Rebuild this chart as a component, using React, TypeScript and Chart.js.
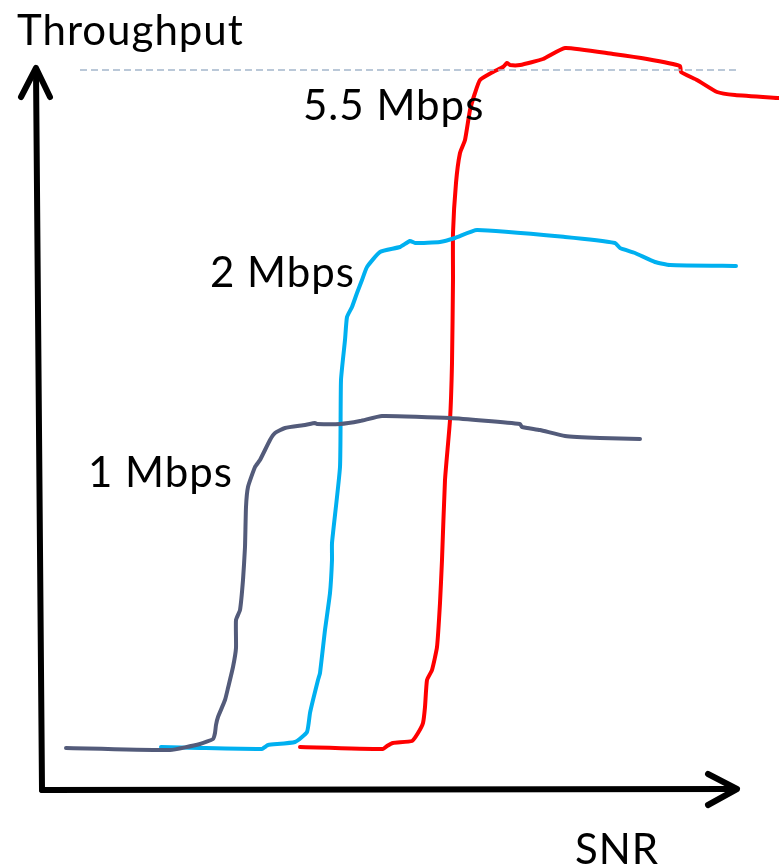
import React, { useEffect, useRef } from "react";
import { Chart, registerables } from "chart.js";

Chart.register(...registerables);

// SNR (x) / throughput (y), arbitrary units, origin at the axes' corner
const mbps1: [number, number][] = [
  [24, 42], [128, 40], [158, 46], [171, 51], [173, 57], [174, 65], [176, 73], [183, 90], [186, 102],
  [191, 123], [194, 142], [194, 170], [198, 180], [201, 210], [203, 243], [204, 283], [206, 303],
  [213, 323], [218, 330], [228, 350], [233, 357], [243, 362], [263, 365], [273, 367], [275, 366],
  [298, 366], [318, 369], [340, 374], [408, 372], [478, 366], [480, 363], [498, 360], [523, 354],
  [558, 352], [598, 351],
];
const mbps2: [number, number][] = [
  [119, 43], [158, 42], [220, 41], [223, 43], [226, 45], [253, 48], [265, 58], [268, 77], [271, 90],
  [276, 110], [278, 117], [283, 160], [288, 197], [290, 230], [290, 247], [298, 323], [299, 410],
  [303, 450], [305, 473], [310, 483], [315, 497], [320, 510], [325, 523], [338, 538], [358, 543],
  [368, 549], [373, 547], [398, 548], [413, 552], [435, 560], [523, 553], [573, 547], [578, 542],
  [593, 537], [613, 528], [628, 525], [694, 524],
];
const mbps55: [number, number][] = [
  [258, 43], [341, 41], [345, 44], [351, 47], [370, 49], [376, 57], [381, 67], [383, 83], [385, 110],
  [390, 120], [395, 143], [398, 187], [400, 230], [403, 310], [408, 370], [410, 427], [411, 510],
  [411, 557], [414, 607], [418, 637], [423, 650], [428, 680], [433, 697], [438, 710], [451, 718],
  [461, 723], [465, 727], [468, 725], [478, 725], [501, 731], [523, 742], [571, 736], [605, 731],
  [638, 724], [639, 718], [655, 710], [675, 698], [693, 695], [737, 692],
];
const maxLine: [number, number][] = [[38, 720], [698, 720]];
const yAxisLine: [number, number][] = [[0, 0], [-6, 720]];
const yArrow: [number, number][] = [[-21, 693], [-6, 722], [8, 693]];
const xAxisLine: [number, number][] = [[0, 0], [692, 1]];
const xArrow: [number, number][] = [[666, 16], [695, 1], [666, -15]];

const labelTexts = ["Throughput", "5.5 Mbps", "2 Mbps", "1 Mbps", "SNR"];
const labelAnchors: [number, number][] = [[-25, 745], [261, 670], [168, 503], [46, 303], [533, -74]];

const toPts = (a: [number, number][]) => a.map(([x, y]) => ({ x, y }));

export default function App() {
  const ref = useRef<HTMLCanvasElement | null>(null);
  useEffect(() => {
    document.body.style.margin = "0";
    if (!ref.current) return;
    const labelPlugin = {
      id: "labels",
      afterDatasetsDraw(chart: any) {
        const { ctx, scales } = chart;
        ctx.save();
        ctx.fillStyle = "#000";
        ctx.font = "42px Lato";
        try { (ctx as any).letterSpacing = "1px"; } catch (e) {}
        ctx.textBaseline = "alphabetic";
        labelTexts.forEach((t, i) => {
          const [x, y] = labelAnchors[i];
          ctx.fillText(t, scales.x.getPixelForValue(x), scales.y.getPixelForValue(y));
        });
        ctx.restore();
      },
    };
    const line = (data: [number, number][], color: string, width: number, extra: any = {}) => ({
      data: toPts(data),
      showLine: true,
      borderColor: color,
      backgroundColor: color,
      borderWidth: width,
      pointRadius: 0,
      borderCapStyle: "round",
      borderJoinStyle: "round",
      tension: 0.15,
      clip: false,
      ...extra,
    });
    const chart = new Chart(ref.current, {
      type: "scatter",
      data: {
        datasets: [
          line(maxLine, "#A4B7CB", 1.5, { borderDash: [7, 4], borderCapStyle: "butt", tension: 0 }),
          line(mbps1, "#535B7A", 4),
          line(mbps2, "#00B0F0", 4),
          line(mbps55, "#FF0000", 4),
          line(yAxisLine, "#000", 6, { tension: 0 }),
          line(yArrow, "#000", 6, { tension: 0 }),
          line(xAxisLine, "#000", 6, { tension: 0 }),
          line(xArrow, "#000", 6, { tension: 0 }),
        ] as any,
      },
      options: {
        animation: false,
        responsive: false,
        layout: { padding: 0 },
        plugins: { legend: { display: false }, tooltip: { enabled: false } },
        scales: {
          x: { type: "linear", min: -42, max: 737, display: false },
          y: { type: "linear", min: -77, max: 790, display: false },
        },
      },
      plugins: [labelPlugin],
    });
    return () => chart.destroy();
  }, []);
  return (
    <div style={{ position: "absolute", left: 0, top: 0, width: 779, height: 867 }}>
      <canvas ref={ref} width={779} height={867} style={{ width: 779, height: 867 }} />
    </div>
  );
}
